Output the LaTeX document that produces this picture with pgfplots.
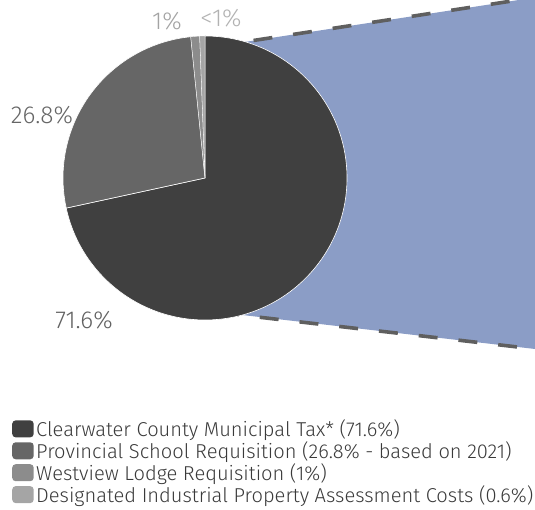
\documentclass[border=0pt]{standalone}
\usepackage{fontspec}
\setmainfont{Fira Sans}[UprightFont=* Light]
\usepackage{pgfplots}
\pgfplotsset{compat=1.18}
\definecolor{sA}{HTML}{404040}
\definecolor{sB}{HTML}{666666}
\definecolor{sC}{HTML}{8C8C8C}
\definecolor{sD}{HTML}{A5A5A5}
\definecolor{zoomfill}{HTML}{8B9DC6}
\definecolor{dashc}{HTML}{5F5F5F}
\definecolor{legtext}{HTML}{3A3A3A}
\pgfplotsset{pieleg/.style={legend image code/.code={\fill[##1, rounded corners=3.5pt] (0pt,-8.5pt) rectangle (21.5pt,8.5pt);}}}
\begin{document}
\begin{tikzpicture}
% slice shares (%), clockwise from 12 o'clock
\def\vA{71.6}\def\vB{26.8}\def\vC{1}\def\vD{0.6}
\pgfmathsetmacro\aA{90}
\pgfmathsetmacro\aB{\aA-3.6*\vA}
\pgfmathsetmacro\aC{\aB-3.6*\vB}
\pgfmathsetmacro\aD{\aC-3.6*\vC}
\pgfmathsetmacro\aE{\aD-3.6*\vD}
\def\cx{205}\def\cy{332}\def\rr{142pt}
\begin{axis}[
  hide axis, scale only axis,
  x=1pt, y=1pt, xmin=0, xmax=535, ymin=0, ymax=510,
  legend style={at={(axis cs:9,93.5)}, anchor=north west, draw=none, fill=none,
    font=\fontsize{20.1}{22}\selectfont, text=legtext, row sep=1.6pt,
    nodes={inner sep=1pt}, cells={anchor=west},
    /tikz/every odd column/.append style={column sep=1.5pt}},
]
\addplot[forget plot, fill=zoomfill, draw=none] coordinates {(225,465) (535,512.5) (535,161) (225,197)} -- cycle;
\addplot[forget plot, dashc, line width=3.6pt, dash pattern=on 19pt off 21pt] coordinates {(214,463.5) (535,512.5)};
\addplot[forget plot, dashc, line width=3.6pt, dash pattern=on 19pt off 21pt] coordinates {(220,197.3) (535,161)};

\fill[sA, draw=white, line width=0.6pt] (axis cs:\cx,\cy) -- ++(\aA:\rr) arc[start angle=\aA, end angle=\aB, radius=\rr] -- cycle;
\fill[sB, draw=white, line width=0.6pt] (axis cs:\cx,\cy) -- ++(\aB:\rr) arc[start angle=\aB, end angle=\aC, radius=\rr] -- cycle;
\fill[sC, draw=white, line width=0.3pt] (axis cs:\cx,\cy) -- ++(\aC:\rr) arc[start angle=\aC, end angle=\aD, radius=\rr] -- cycle;
\fill[sD, draw=white, line width=0.3pt] (axis cs:\cx,\cy) -- ++(\aD:\rr) arc[start angle=\aD, end angle=\aE, radius=\rr] -- cycle;

\node[text=black!62, font=\fontsize{24.5}{26}\selectfont] at (axis cs:84,190) {71.6\%};
\node[text=black!60, font=\fontsize{24.5}{26}\selectfont] at (axis cs:42,395) {26.8\%};
\node[text=black!36, font=\fontsize{24.5}{26}\selectfont] at (axis cs:167,489) {1\%};
\node[text=black!30, font=\fontsize{24.5}{26}\selectfont] at (axis cs:221,492) {<1\%};

\addlegendimage{pieleg, fill=sA, draw=none}
\addlegendentry{Clearwater County Municipal Tax* (71.6\%)}
\addlegendimage{pieleg, fill=sB, draw=none}
\addlegendentry{Provincial School Requisition (26.8\% - based on 2021)}
\addlegendimage{pieleg, fill=sC, draw=none}
\addlegendentry{Westview Lodge Requisition (1\%)}
\addlegendimage{pieleg, fill=sD, draw=none}
\addlegendentry{Designated Industrial Property Assessment Costs (0.6\%)}

\coordinate (bl) at (axis cs:0,0);
\coordinate (tr) at (axis cs:535,510);
\end{axis}
\pgfresetboundingbox
\path[use as bounding box] (bl) rectangle (tr);
\end{tikzpicture}
\end{document}
